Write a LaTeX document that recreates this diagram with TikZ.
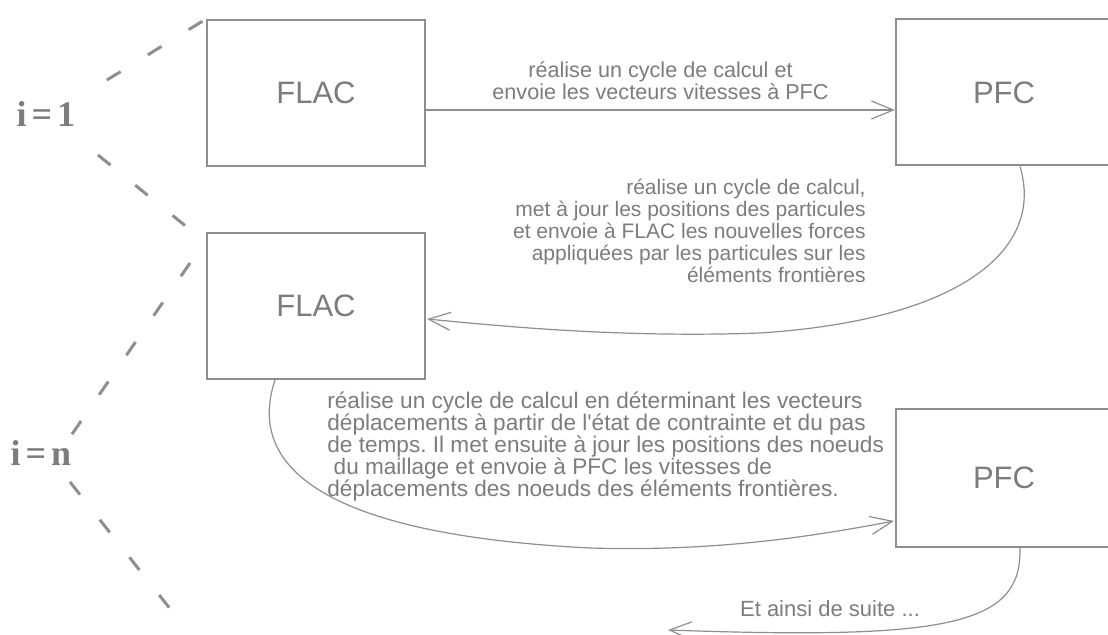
\documentclass[tikz,border=0pt]{standalone}
\usepackage{fontspec}
\setmainfont{Liberation Sans}
\newfontfamily\idxfont{Liberation Serif}
\usetikzlibrary{arrows.meta,calc}
\definecolor{linegray}{HTML}{8E8E8E}
\definecolor{textgray}{HTML}{7C7C7C}
\frenchspacing

\begin{document}
\begin{tikzpicture}[x=0.5pt,y=-0.5pt,
  box/.style={draw=linegray,line width=1pt,minimum width=109pt,minimum height=73pt,
    text=textgray,font=\fontsize{15.5}{18}\selectfont},
  lbl/.style={text=textgray,font=\fontsize{10.8}{11}\selectfont,inner sep=0pt},
  flow/.style={draw=linegray,line width=0.6pt,-{Straight Barb[length=11pt,width=9pt]}},
  brace/.style={draw=linegray,line width=1.5pt,dash pattern=on 8pt off 16pt},
  idx/.style={text=textgray,font=\idxfont\fontsize{18}{20}\selectfont\bfseries}]
\clip (0,0) rectangle (1108,635);

% the two steps, i = 1 and i = n
\node [box] (flacA) at (316,93) {FLAC};
\node [box,minimum width=108pt] (pfcA) at (1004,92.5) {PFC};
\node [box] (flacB) at (316,306) {FLAC};
\node [box,minimum width=108pt,minimum height=69pt] (pfcB) at (1004,478) {PFC};

\node [idx] (iun) at (46,114) {i\kern2.5pt=\kern2.5pt1};
\node [idx] (ienn) at (41,453) {i\kern2.5pt=\kern2.5pt n};

% dashed brackets
\coordinate (ua) at (107,80);
\coordinate (ub) at (98,155);
\coordinate (uc) at (193,232);
\coordinate (na) at (190,263);
\coordinate (nb) at (68,440);
\coordinate (nc) at (70,482);
\coordinate (nd) at (175,615);
\draw [brace] (ua) -- (flacA.north west);
\draw [brace] (ub) -- (uc);
\draw [brace] (na) -- (nb);
\draw [brace] (nc) -- (nd);

% exchanges
\draw [flow] ($(flacA.east)+(0,17)$) -- ($(pfcA.west)+(0,17.5)$)
  node [lbl,midway,above=5pt,align=center] (txtA)
  {réalise un cycle de calcul et\\envoie les vecteurs vitesses à PFC};

\draw [flow] ($(pfcA.south)+(16,0)$) .. controls (1045,250) and (960,320) .. (760,333)
  .. controls (620,338) and (500,326) .. ($(flacB.east)+(1,13)$);
\node [lbl,font=\fontsize{10.5}{11}\selectfont,align=right,anchor=east] (txtB) at (866,231)
  {réalise un cycle de calcul,\\met à jour les positions des particules\\
   et envoie à FLAC les nouvelles forces\\appliquées par les particules sur les\\
   éléments frontières};

\draw [flow] ($(flacB.south)+(-41,0)$) .. controls (245,470) and (330,535) .. (590,548)
  .. controls (720,552) and (820,535) .. ($(pfcB.west)+(-1,43)$);
\node [lbl,font=\fontsize{11.3}{11}\selectfont,align=left,anchor=west] (txtC) at (327,447)
  {réalise un cycle de calcul en déterminant les vecteurs\\
   déplacements à partir de l\textquotesingle état de contrainte et du pas\\
   de temps. Il met ensuite à jour les positions des noeuds\\
   \ du maillage et envoie à PFC les vitesses de\\
   déplacements des noeuds des éléments frontières.};

\coordinate (suite) at (668,630);
\draw [flow] ($(pfcB.south)+(16,0)$) .. controls (1022,625) and (950,640) .. (suite);
\node [lbl,font=\fontsize{11}{11}\selectfont] (txtD) at (830,609) {Et ainsi de suite ...};
\end{tikzpicture}
\end{document}
